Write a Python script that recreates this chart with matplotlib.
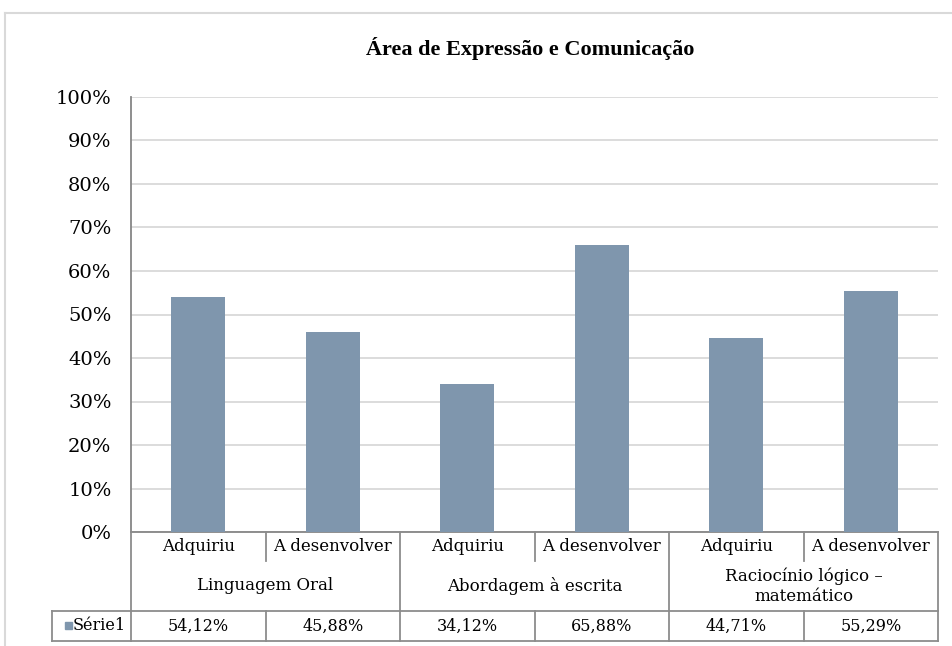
import numpy as np
import matplotlib
matplotlib.use("Agg")
import matplotlib.pyplot as plt
from matplotlib.transforms import blended_transform_factory
from matplotlib.lines import Line2D
from matplotlib.patches import Rectangle

# ---- data ----
title = "Área de Expressão e Comunicação"
categories = ["Linguagem Oral", "Abordagem à escrita", "Raciocínio lógico –\nmatemático"]
subcategories = ["Adquiriu", "A desenvolver", "Adquiriu", "A desenvolver", "Adquiriu", "A desenvolver"]
series_name = "Série1"
values = [54.12, 45.88, 34.12, 65.88, 44.71, 55.29]
yticks = [0, 10, 20, 30, 40, 50, 60, 70, 80, 90, 100]
ytick_labels = [f"{t}%" for t in yticks]

BAR = "#7F96AD"
GRID = "#D9D9D9"
AXC = "#868686"
FONT = "DejaVu Serif"

W, H = 952, 646
fig = plt.figure(figsize=(W / 100, H / 100), dpi=100)


def fx(p):
    return p / W


def fy(p):
    return 1 - p / H


ax = fig.add_axes([fx(131), fy(532), fx(938) - fx(131), (532 - 97) / H])
x = np.arange(len(values))
ax.bar(x, values, width=0.4, color=BAR, zorder=3)
ax.set_xlim(-0.5, len(values) - 0.5)
ax.set_ylim(0, 100)
ax.set_yticks(yticks)
ax.set_yticklabels(ytick_labels, fontfamily=FONT, fontsize=14)
ax.set_xticks([])
ax.tick_params(axis="y", length=0, pad=14)
ax.grid(axis="y", color=GRID, lw=1.3, zorder=0)
ax.set_axisbelow(True)
for s in ["top", "right"]:
    ax.spines[s].set_visible(False)
ax.spines["left"].set_color(AXC)
ax.spines["left"].set_linewidth(1.3)
ax.spines["bottom"].set_color(AXC)
ax.spines["bottom"].set_linewidth(1.3)

# ---- data table ----
tr = blended_transform_factory(ax.transData, fig.transFigure)
r0, r1, r2, r3 = 532, 561, 611, 641
edges = np.arange(len(values) + 1) - 0.5
LC = "#8C8C8C"


def vline(xd, ya, yb, lw=1.3):
    fig.add_artist(Line2D([xd, xd], [fy(ya), fy(yb)], transform=tr, color=LC, lw=lw, clip_on=False))


def hline_fig(xa, xb, yp):
    fig.add_artist(Line2D([fx(xa), fx(xb)], [fy(yp), fy(yp)], transform=fig.transFigure, color=LC, lw=1.3))


for i, e in enumerate(edges):
    vline(e, r2, r3)
    if i % 2 == 0:
        vline(e, r0, r2)
    else:
        vline(e, r0, r1)
for yp in (r2, r3):
    fig.add_artist(Line2D([edges[0], edges[-1]], [fy(yp), fy(yp)], transform=tr, color=LC, lw=1.3))
    hline_fig(52, 131, yp)
fig.add_artist(Line2D([fx(52), fx(52)], [fy(r2), fy(r3)], transform=fig.transFigure, color=LC, lw=1.3))

tk = dict(transform=tr, ha="center", va="center", fontfamily=FONT, color="#000000")
for i, s in enumerate(subcategories):
    fig.text(i, fy((r0 + r1) / 2), s, fontsize=12, **tk)
for g, c in enumerate(categories):
    fig.text(2 * g + 0.5, fy((r1 + r2) / 2), c, linespacing=1.2, fontsize=12, **tk)
for i, v in enumerate(values):
    fig.text(i, fy((r2 + r3) / 2), f"{v:.2f}%".replace(".", ","), fontsize=11.5, **tk)

fig.add_artist(Rectangle((fx(65), fy(629)), 7 / W, 7 / H, transform=fig.transFigure, color=BAR))
fig.text(fx(73), fy((r2 + r3) / 2), series_name, ha="left", va="center",
         fontfamily=FONT, fontsize=11.5)

# title
fig.text(fx(530), fy(49), title, ha="center", va="center",
         fontfamily="Liberation Serif", fontweight="bold", fontsize=16)

# outer chart border (top & left visible)
fig.add_artist(Line2D([fx(5), fx(952)], [fy(13), fy(13)], transform=fig.transFigure, color=GRID, lw=1.5))
fig.add_artist(Line2D([fx(5), fx(5)], [fy(13), fy(646)], transform=fig.transFigure, color=GRID, lw=1.5))

fig.savefig("out.png", dpi=100)
